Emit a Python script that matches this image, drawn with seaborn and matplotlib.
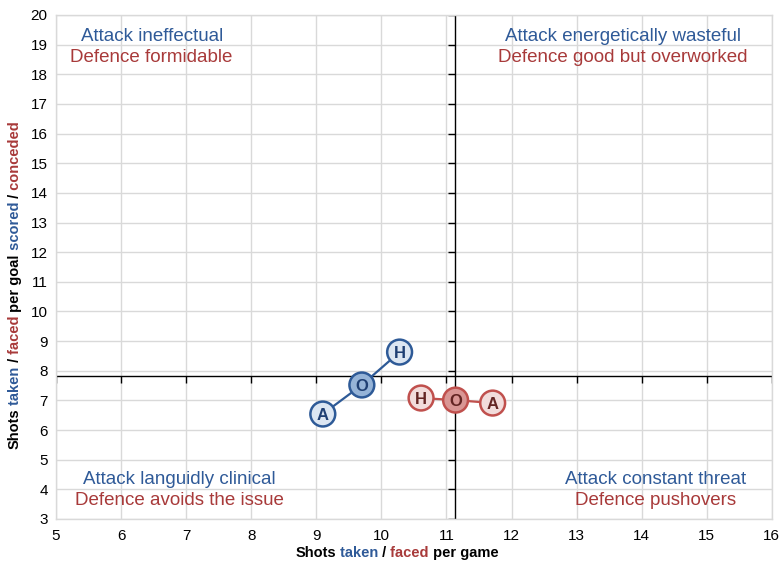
import matplotlib
matplotlib.use("Agg")
import matplotlib.pyplot as plt
import seaborn as sns

# ---- data ----
venues = ["H", "O", "A"]                 # home / overall / away
attack_shots = [10.28, 9.70, 9.10]       # shots taken per game
attack_ratio = [8.63, 7.52, 6.54]        # shots taken per goal scored
defence_shots = [10.61, 11.14, 11.71]    # shots faced per game
defence_ratio = [7.08, 7.01, 6.91]       # shots faced per goal conceded
cross_x = 11.13                          # where the axes cross
cross_y = 7.82

x_ticks = list(range(5, 17))
y_ticks = list(range(3, 21))

quadrants = [
    ("Attack ineffectual", "Defence formidable"),
    ("Attack energetically wasteful", "Defence good but overworked"),
    ("Attack languidly clinical", "Defence avoids the issue"),
    ("Attack constant threat", "Defence pushovers"),
]

blue = "#2e5a97"
red = "#c0504d"
blue_txt = "#2f5a98"
red_txt = "#a83a3a"

sns.set_theme(style="white")
plt.rcParams["font.family"] = ["Liberation Sans", "DejaVu Sans"]

fig = plt.figure(figsize=(7.82, 5.61), dpi=100)
ax = fig.add_axes([0.0716, 0.0749, 0.9154, 0.8984])
ax.set_xlim(5, 16)
ax.set_ylim(3, 20)
ax.set_xticks(x_ticks)
ax.set_yticks(y_ticks)
ax.grid(True, color="#d9d9d9", lw=1)
for s in ax.spines.values():
    s.set_color("#d9d9d9")
    s.set_linewidth(1)
ax.tick_params(length=0, labelsize=11, colors="black", pad=7)
ax.tick_params(axis="y", pad=6)

# crossing axes with their own little ticks
ax.axvline(cross_x, color="black", lw=1, zorder=2)
ax.axhline(cross_y, color="black", lw=1, zorder=2)
ax.plot([cross_x] * len(y_ticks), y_ticks, ls="none", marker=0,
        ms=5, mew=1, color="black", zorder=2)
ax.plot(x_ticks, [cross_y] * len(x_ticks), ls="none", marker=3,
        ms=5, mew=1, color="black", zorder=2)

# the two series
sns.lineplot(x=attack_shots, y=attack_ratio, sort=False, color=blue, lw=1.6,
             ax=ax, zorder=3)
sns.lineplot(x=defence_shots, y=defence_ratio, sort=False, color=red, lw=1.6,
             ax=ax, zorder=3)

blue_fill = {"H": "#dce6f2", "O": "#95b3d7", "A": "#dce6f2"}
red_fill = {"H": "#f2dcdb", "O": "#d99694", "A": "#f2dcdb"}
for xs, ys, edge, fills, letter_col in [
    (attack_shots, attack_ratio, blue, blue_fill, "#1f3f73"),
    (defence_shots, defence_ratio, red, red_fill, "#632523"),
]:
    ax.scatter(xs, ys, s=320, c=[fills[v] for v in venues], edgecolors=edge,
               linewidths=1.8, zorder=4)
    for v, xx, yy in zip(venues, xs, ys):
        ax.text(xx, yy, v, ha="center", va="center_baseline", fontsize=12,
                fontweight="bold", color=letter_col, zorder=5)

# quadrant captions
spots = [(6.47, 19.26), (13.71, 19.26), (6.9, 4.32), (14.22, 4.32)]
for (att, dfn), (qx, qy) in zip(quadrants, spots):
    ax.text(qx, qy, att, ha="center", va="center", fontsize=13.5, color=blue_txt)
    ax.text(qx, qy - 0.68, dfn, ha="center", va="center", fontsize=13.5,
            color=red_txt)


def multicolour(pieces, cx, cy, rotation=0):
    texts = []
    first = None
    for word, col in pieces:
        kw = dict(color=col, fontsize=10.5, fontweight="bold", rotation=rotation)
        if first is None:
            t = fig.text(0, 0, word, ha="left", va="bottom", **kw)
            first = t
        else:
            xy = (1, 0) if rotation == 0 else (0, 1)
            t = ax.annotate(word, xy=xy, xycoords=texts[-1], ha="left",
                            va="bottom", annotation_clip=False, **kw)
        texts.append(t)
    fig.canvas.draw()
    r = fig.canvas.get_renderer()
    boxes = [t.get_window_extent(r) for t in texts]
    x0 = min(b.x0 for b in boxes)
    x1 = max(b.x1 for b in boxes)
    y0 = min(b.y0 for b in boxes)
    y1 = max(b.y1 for b in boxes)
    W, H = fig.bbox.width, fig.bbox.height
    dx = cx * W - (x0 + x1) / 2
    dy = cy * H - (y0 + y1) / 2
    px, py = first.get_position()
    first.set_position((px + dx / W, py + dy / H))


multicolour([("Shots", "black"), (" taken", blue_txt), (" /", "black"),
             (" faced", red_txt), (" per game", "black")],
            397 / 782, 1 - 553 / 561)
multicolour([("Shots", "black"), (" taken", blue_txt), (" /", "black"),
             (" faced", red_txt), (" per goal", "black"), (" scored", blue_txt),
             (" /", "black"), (" conceded", red_txt)],
            15 / 782, 1 - 285 / 561, rotation=90)

fig.savefig("out.png", dpi=100)
